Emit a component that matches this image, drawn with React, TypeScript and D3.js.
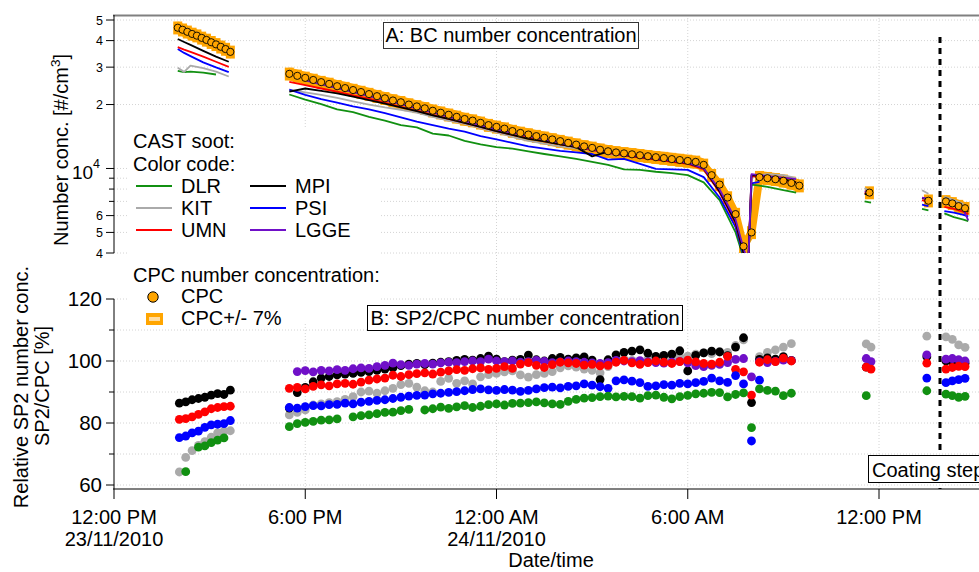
import React from 'react';
import * as d3 from 'd3';

const FONT = '"Liberation Sans", Arial, Helvetica, sans-serif';

// x values are hours after 12:00 PM, 23/11/2010
const xTickHours = [0, 6, 12, 18, 24];
const xTickTimes = ['12:00 PM', '6:00 PM', '12:00 AM', '6:00 AM', '12:00 PM'];
const xTickDates = ['23/11/2010', '', '24/11/2010', '', ''];

const concMajorTicks = [4000, 5000, 6000, 10000, 20000, 30000, 40000, 50000];
const concMajorLabels = ['4', '5', '6', '', '2', '3', '4', '5'];
const concMinorTicks = [7000, 8000, 9000];
const ratioMajorTicks = [60, 80, 100, 120];
const ratioMinorTicks = [70, 90, 110];

const seriesNames = ['DLR', 'KIT', 'UMN', 'MPI', 'PSI', 'LGGE'];
const seriesColors = ['#119011', '#aaaaaa', '#ff0000', '#000000', '#0000ff', '#7010c8'];

// ---- panel A : number concentration (#/cm3) ----
const concTimes = [
  [2.0, 2.2, 2.4, 2.8, 3.2, 3.6],
  [5.5, 6.0, 6.5, 7.0, 7.5, 8.0, 8.5, 9.0, 9.5, 10.0, 10.5, 11.0, 11.5, 12.0, 12.5, 13.0, 13.5, 14.0,
    14.5, 15.0, 15.5, 16.0, 16.5, 17.0, 17.5, 18.0, 18.5, 19.0, 19.5, 19.75, 19.9, 20.0, 20.25, 20.5, 21.0, 21.4],
  [23.55, 23.75],
  [25.35, 25.55],
  [26.05, 26.35, 26.65, 26.8],
];

const dlrConc = [
  [28800, 28400, 28600, 28300, 27700, null],
  [22300, 21100, 20100, 19000, 18400, 17500, 16800, 16000, 15600, 14600, 14300, 13500, 13000, 12600, 12400, 12050, 11700, 11400,
    11100, 10750, 10400, 9900, 9850, 9650, 9500, 9300, 8600, 7100, 5000, 3800, 3600, 8400, 8300, 8200, 7900, 7700],
  [7000, 6900],
  [6450, 6350],
  [6150, 5900, 5750, 5650],
];
const kitConc = [
  [29800, 28500, 30500, 29700, 28600, 27100],
  [23500, 22800, 22200, 21500, 20700, 20000, 19400, 18900, 18300, 17500, 16800, 16200, 15500, 14800, 14100, 13500, 13100, 12700,
    12450, 12200, 11700, 11500, 11300, 11100, 10800, 10600, 10000, 7800, 5600, 4000, 3600, 9100, 9300, 9400, 9300, 9000],
  [8100, 7700],
  [7900, 7600],
  [7350, 7100, 6800, null],
];
const umnConc = [
  [37300, 36300, 35400, 33600, 31800, 30100],
  [25600, 24700, 23800, 23000, 22100, 21300, 20400, 19500, 18700, 17900, 17100, 16400, 15700, 15000, 14400, 13900, 13400, 13000,
    12600, 12200, 11800, 11500, 11250, 11000, 10750, 10500, 9900, 7700, 5500, 4000, 3600, 9200, 9100, 9000, 8800, 8600],
  [7700, 7450],
  [7100, 6950],
  [6600, 6450, 6250, 6100],
];
const mpiConc = [
  [40700, 39400, 38200, 35800, 33600, 31800],
  [23000, 23800, 23200, 22600, 21800, 21000, 20200, 19400, 18600, 17800, 17100, 16400, 15700, 15000, 14400, 13800, 13400, 13000,
    12600, 11400, 12000, 11600, 11350, 11100, 10850, 10600, 10000, 7800, 5600, 4000, 3600, 9300, 9250, 9200, 8900, 8600],
  [7600, 7500],
  [7250, 7150],
  [6850, 6700, 6450, 6250],
];
const psiConc = [
  [36500, 35000, 33800, 31600, 29900, 28400],
  [23500, 22200, 21200, 20400, 19600, 19000, 18200, 17400, 16600, 16000, 15400, 14900, 14200, 13700, 13200, 12700, 12400, 12100,
    11900, 11700, 11000, 11100, 10500, 9950, 9900, 9850, 9100, 7300, 5300, 3900, 3600, 8500, 8650, null, null, null],
  [null, null],
  [6750, 6650],
  [6300, 6200, 6050, 5950],
];
const lggeConc = [
  [null, null, null, null, null, null],
  [null, 26000, 24900, 23900, 22900, 21900, 21000, 20100, 19200, 18300, 17500, 16700, 16000, 15300, 14700, 14200, 13700, 13200,
    12750, 12300, 12000, 11650, 11400, 11150, 10900, 10650, 10000, 7960, 5750, 4200, 3600, 9400, 9300, 9200, 9050, 8900],
  [7800, 7750],
  [7300, 7200],
  [6900, 6700, 6400, 5700],
];

const cpcTimes = [
  [2.0, 2.15, 2.3, 2.45, 2.6, 2.75, 2.9, 3.05, 3.2, 3.35, 3.5, 3.65],
  [5.5, 5.75, 6, 6.25, 6.5, 6.75, 7, 7.25, 7.5, 7.75, 8, 8.25, 8.5, 8.75, 9, 9.25, 9.5, 9.75, 10, 10.25,
    10.5, 10.75, 11, 11.25, 11.5, 11.75, 12, 12.25, 12.5, 12.75, 13, 13.25, 13.5, 13.75, 14, 14.25, 14.5, 14.75, 15, 15.25,
    15.5, 15.75, 16, 16.25, 16.5, 16.75, 17, 17.25, 17.5, 17.75, 18, 18.25, 18.5, 18.75, 19, 19.25, 19.5, 19.75,
    20.0, 20.25, 20.5, 20.75, 21.0, 21.25, 21.5],
  [23.7],
  [25.55],
  [26.1, 26.3, 26.5, 26.7],
];
const cpcConc = [
  [46000, 45000, 44000, 43000, 42200, 41200, 40300, 39300, 38400, 37400, 36500, 35400],
  [27900, 27300, 26700, 26100, 25500, 25000, 24400, 23900, 23400, 22900, 22400, 21900, 21400, 20900, 20500, 20000, 19600, 19200, 18700, 18300,
    17900, 17500, 17100, 16800, 16400, 16000, 15700, 15400, 15000, 14700, 14450, 14200, 13950, 13700, 13450, 13200, 12950, 12700, 12500, 12250,
    12050, 11900, 11780, 11660, 11540, 11420, 11300, 11190, 11070, 10960, 10850, 10740, 10400, 9300, 8400, 7300, 6100, 4300,
    5000, 9100, 9000, 8900, 8750, 8550, 8300],
  [7700],
  [7050],
  [7000, 6850, 6650, 6500],
];

// ---- panel B : SP2/CPC (%) ----
const ratioTimes = [
  [2.05, 2.25, 2.45, 2.65, 2.85, 3.05, 3.25, 3.45, 3.65],
  [5.5, 5.75, 6, 6.25, 6.5, 6.75, 7, 7.25, 7.5, 7.75, 8, 8.25, 8.5, 8.75, 9, 9.25, 9.5, 9.75, 10, 10.25,
    10.5, 10.75, 11, 11.25, 11.5, 11.75, 12, 12.25, 12.5, 12.75, 13, 13.25, 13.5, 13.75, 14, 14.25, 14.5, 14.75, 15, 15.25,
    15.5, 15.75, 16, 16.25, 16.5, 16.75, 17, 17.25, 17.5, 17.75, 18, 18.25, 18.5, 18.75, 19, 19.25, 19.5, 19.75],
  [20.0, 20.25, 20.5, 20.75, 21.0, 21.25],
  [23.6, 23.75],
  [25.5],
  [26.1, 26.3, 26.5, 26.7],
];

const dlrRatio = [
  [null, 64.3, null, 72.2, 72.6, 73.7, 74.5, 75.2, null],
  [78.8, 79.8, 80.2, 80.5, 80.9, 81.0, 81.3, null, 82.0, 82.4,
    82.6, 83.0, 83.4, 83.5, 84.0, 84.4, null, 84.2, 84.6, 85.1,
    84.7, 85.2, 85.6, 85.0, 85.4, 85.9, 86.2, 85.8, 86.3, 86.4,
    86.6, 86.8, 86.5, 86.2, 86.0, 87.0, 87.6, 88.0, 88.2, 88.5,
    88.7, 88.4, 88.6, 88.5, 88.0, 88.8, 89.0, 88.3, 87.8, 88.5,
    88.9, 89.4, 89.6, 89.9, 89.8, 88.4, 89.2, 89.7],
  [78.5, 91.0, 90.5, 90.3, 88.8, 89.6],
  [88.8, null],
  [90.4],
  [89.3, 88.8, 88.3, 88.6],
];
const kitRatio = [
  [64.2, 68.9, 71.1, 72.8, 74.0, 75.4, 76.8, 77.4, 77.5],
  [82.6, 83.4, 84.2, 85.8, 86.2, 86.6, 86.9, 87.6, 88.5, 90.0,
    90.3, 89.6, 90.4, 91.2, 92.4, 92.8, 91.6, 90.4, 90.0, 93.4,
    94.4, 92.8, 93.6, 92.6, 94.9, 95.6, 96.0, 96.5, 96.8, 95.5,
    94.8, 95.6, 96.0, 96.6, 97.8, 98.4, 98.0, 97.4, 97.0, 96.2,
    98.2, 99.8, 100.5, 100.2, 99.8, 100.6, 100.8, 100.4, 101.0, 101.4,
    101.6, 102.2, 102.6, 102.4, 103.0, 102.8, 105.0, 106.8],
  [null, 101.4, 102.8, 103.6, 104.5, 105.6],
  [105.5, 104.5],
  [108.0],
  [107.8, 107.0, 105.2, 104.4],
];
const umnRatio = [
  [81.2, 81.4, 82.0, 82.8, 83.6, 84.6, 85.0, 85.3, 85.4],
  [91.2, 91.5, 91.0, 91.8, 92.3, 92.0, 92.6, 92.8, 92.5, 93.2,
    93.8, 94.2, 94.5, 95.4, 95.0, 95.6, 95.9, 96.2, 95.8, 96.4,
    96.8, 97.2, 97.0, 97.5, 97.8, 97.3, 97.6, 98.2, 97.6, 99.0,
    99.5, 98.6, 97.9, 98.8, 99.6, 99.4, 99.2, 98.7, 98.9, 98.4,
    98.6, 99.6, 100.2, 99.4, 98.9, 99.5, 100.0, 99.6, 99.2, 99.8,
    100.3, 99.7, 99.2, 99.0, 99.6, 101.5, 97.3, 96.5],
  [89.0, 99.6, 100.4, 99.8, 100.9, 100.0],
  [98.0, 97.4],
  [99.3],
  [97.4, 97.9, 98.3, 98.2],
];
const mpiRatio = [
  [86.4, 86.8, 87.5, 87.9, 88.3, 89.0, 89.5, 89.2, 90.6],
  [84.8, 89.8, 91.5, 93.3, 94.5, 95.0, 95.5, 95.8, 96.0, 96.3,
    96.6, 97.0, 97.4, 97.8, 98.5, 99.0, 99.2, 98.8, 99.3, 99.6,
    99.8, 100.2, 100.5, 100.3, 100.8, 101.6, 100.6, 99.8, 100.3, 100.5,
    101.9, 100.4, 100.0, 100.8, 101.2, 100.6, 101.0, 101.3, 100.3, 94.0,
    100.4, 102.0, 102.8, 103.2, 103.6, 102.5, 101.5, 101.8, 102.2, 103.3,
    96.8, 101.8, 102.6, 103.2, 102.9, 101.7, 104.5, 107.5],
  [86.6, 100.5, 101.0, 100.6, 101.4, 100.2],
  [98.0, null],
  [101.4],
  [100.0, 99.6, 100.2, 99.3],
];
const psiRatio = [
  [75.3, 75.8, 76.8, 77.4, 78.6, 79.4, 79.6, 79.8, 80.8],
  [85.0, 84.8, 85.3, 85.6, 85.5, 85.9, 86.0, 86.4, 86.2, 86.7,
    87.0, 87.3, 87.5, 87.9, 88.3, 88.7, 88.9, 89.0, 89.4, 89.6,
    89.9, 90.1, 90.4, 90.8, 91.0, 90.7, 90.5, 90.8, 90.6, 90.2,
    90.5, 91.0, 91.4, 91.6, 91.3, 91.8, 92.0, 92.6, 92.2, 91.7,
    91.2, 93.6, 93.9, 93.5, 93.0, 91.8, 92.0, 92.4, 92.2, 92.8,
    92.6, 93.0, 93.4, 94.5, 93.6, 93.1, 95.3, 92.6],
  [74.2, 93.8, null, null, null, null],
  [null, null],
  [94.5],
  [93.0, 93.6, 94.0, 94.4],
];
const lggeRatio = [
  [null, null, null, null, null, null, null, null, null],
  [null, 96.6, 96.9, 96.5, 97.0, 96.8, 97.2, 97.0, 97.5, 97.8,
    97.6, 98.2, 98.6, 99.3, 98.8, 98.6, 99.0, 99.2, 99.0, 99.4,
    99.6, 99.5, 99.8, 100.0, 99.8, 100.6, 100.0, 99.8, 100.0, 99.6,
    99.8, 100.2, 99.9, 99.5, 99.7, 100.0, 99.8, 99.6, 99.4, 99.2,
    99.5, 100.2, 100.0, 99.8, 100.1, 99.7, 99.5, 99.3, 99.6, 99.9,
    99.4, 98.5, 98.2, 98.6, 98.9, 99.5, 100.5, 100.8],
  [94.9, 99.8, 99.5, 99.9, 100.3, 100.1],
  [100.8, 99.8],
  [102.0],
  [100.6, 100.8, 100.4, 100.0],
];

const concBySeries = [dlrConc, kitConc, umnConc, mpiConc, psiConc, lggeConc];
const ratioBySeries = [dlrRatio, kitRatio, umnRatio, mpiRatio, psiRatio, lggeRatio];

const x = d3.scaleLinear().domain([0, 24]).range([114, 879]);
const yConc = d3.scaleLog().domain([4000, 52800]).range([253, 15]);
const yRatio = d3.scaleLinear().domain([60, 120]).range([485, 299]);

type Pt = [number, number | null];

const concLine = d3.line<Pt>()
  .defined(d => d[1] != null)
  .x(d => x(d[0]))
  .y(d => yConc(d[1] as number));

const bandArea = d3.area<Pt>()
  .x(d => x(d[0]))
  .y0(d => yConc((d[1] as number) * 0.93))
  .y1(d => yConc((d[1] as number) * 1.07));

const zip = (ts: number[], vs: (number | null)[]): Pt[] => ts.map((t, i) => [t, vs[i]]);

const GRID = '#d4d4d4';
const ORANGE = '#ffa500';
const FS = 20;

const App: React.FC = () => {
  const topLineOrder = [0, 1, 4, 2, 3, 5];
  const dotOrder = [1, 3, 5, 2, 4, 0];

  return (
    <svg width={979} height={572} style={{ position: 'absolute', left: 0, top: 0, fontFamily: FONT }}>
      <defs>
        <clipPath id="clipTop">
          <rect x={114} y={15} width={865} height={238} />
        </clipPath>
      </defs>
      <rect width={979} height={572} fill="#fff" />

      {/* grid */}
      {[...concMajorTicks, ...concMinorTicks].map(v => (
        <line key={'gc' + v} x1={114} x2={979} y1={yConc(v)} y2={yConc(v)} stroke={GRID} strokeDasharray="1 2" />
      ))}
      {[...ratioMajorTicks, ...ratioMinorTicks].map(v => (
        <line key={'gr' + v} x1={114} x2={979} y1={yRatio(v)} y2={yRatio(v)} stroke={GRID} strokeDasharray="1 2" />
      ))}
      {xTickHours.slice(1).map(h => (
        <line key={'gx' + h} x1={x(h)} x2={x(h)} y1={15} y2={489} stroke={GRID} strokeDasharray="1 2" />
      ))}

      {/* legend background */}
      <rect x={128} y={128} width={252} height={194} fill="#fff" />

      {/* panel A data */}
      <g clipPath="url(#clipTop)">
        {cpcTimes.map((ts, k) => {
          const pts = zip(ts, cpcConc[k]);
          return (
            <g key={'band' + k}>
              <path d={concLine(pts) ?? ''} fill="none" stroke={ORANGE} strokeWidth={8} strokeLinejoin="round" />
              <path d={bandArea(pts) ?? ''} fill={ORANGE} />
              {pts.map((p, i) => (
                <rect key={i} x={x(p[0]) - 4.5} width={9}
                  y={yConc((p[1] as number) * 1.07)}
                  height={yConc((p[1] as number) * 0.93) - yConc((p[1] as number) * 1.07)}
                  fill={ORANGE} />
              ))}
            </g>
          );
        })}
        {topLineOrder.map(s => (
          <g key={'l' + s}>
            {concTimes.map((ts, k) => (
              <path key={k} d={concLine(zip(ts, concBySeries[s][k])) ?? ''} fill="none"
                stroke={seriesColors[s]} strokeWidth={1.8} strokeLinejoin="round" />
            ))}
          </g>
        ))}
        {cpcTimes.map((ts, k) => ts.map((t, i) => (
          <circle key={'c' + k + '-' + i} cx={x(t)} cy={yConc(cpcConc[k][i])} r={3.6}
            fill={ORANGE} stroke="#000" strokeWidth={0.9} />
        )))}
      </g>

      {/* panel B data */}
      {dotOrder.map(s => (
        <g key={'d' + s} fill={seriesColors[s]}>
          {ratioTimes.map((ts, k) => ts.map((t, i) => {
            const v = ratioBySeries[s][k][i];
            return v == null ? null : <circle key={k + '-' + i} cx={x(t)} cy={yRatio(v)} r={4.4} />;
          }))}
        </g>
      ))}

      {/* frame lines */}
      <line x1={113} x2={979} y1={15.5} y2={15.5} stroke="#808080" strokeWidth={2} />
      <line x1={113} x2={979} y1={489} y2={489} stroke="#808080" strokeWidth={2} />

      {/* axis A */}
      <line x1={114} x2={114} y1={15} y2={253} stroke="#000" />
      {concMajorTicks.map((v, i) => (
        <g key={'ta' + v}>
          <line x1={106} x2={114} y1={yConc(v)} y2={yConc(v)} stroke="#000" />
          {concMajorLabels[i] && (
            <text x={103} y={yConc(v)} dy="0.36em" textAnchor="end" fontSize={12.5}>{concMajorLabels[i]}</text>
          )}
        </g>
      ))}
      {concMinorTicks.map(v => (
        <line key={'tm' + v} x1={109} x2={114} y1={yConc(v)} y2={yConc(v)} stroke="#000" />
      ))}
      <text x={100} y={179} textAnchor="end" fontSize={19}>10<tspan dy={-11} fontSize={12.5}>4</tspan></text>
      <text transform="translate(68,150) rotate(-90)" textAnchor="middle" fontSize={FS}>
        Number conc. [#/cm<tspan dy={-8} fontSize={13.5}>3</tspan><tspan dy={8}>]</tspan>
      </text>

      {/* axis B */}
      <line x1={114} x2={114} y1={299} y2={489} stroke="#000" />
      {ratioMajorTicks.map(v => (
        <g key={'tb' + v}>
          <line x1={106} x2={114} y1={yRatio(v)} y2={yRatio(v)} stroke="#000" />
          <text x={102} y={yRatio(v)} dy="0.36em" textAnchor="end" fontSize={20.5}>{v}</text>
        </g>
      ))}
      {ratioMinorTicks.map(v => (
        <line key={'tbm' + v} x1={109} x2={114} y1={yRatio(v)} y2={yRatio(v)} stroke="#000" />
      ))}
      <text transform="translate(28,387) rotate(-90)" textAnchor="middle" fontSize={FS}>Relative SP2 number conc.</text>
      <text transform="translate(49,386) rotate(-90)" textAnchor="middle" fontSize={FS}>SP2/CPC [%]</text>

      {/* x axis */}
      {xTickHours.map((h, i) => (
        <g key={'tx' + h}>
          <line x1={x(h)} x2={x(h)} y1={489} y2={499} stroke="#000" />
          <text x={x(h)} y={524} textAnchor="middle" fontSize={FS}>{xTickTimes[i]}</text>
          {xTickDates[i] && <text x={x(h)} y={546} textAnchor="middle" fontSize={FS}>{xTickDates[i]}</text>}
        </g>
      ))}
      <text x={551} y={567} textAnchor="middle" fontSize={FS}>Date/time</text>

      {/* coating step marker */}
      <line x1={940} x2={940} y1={37} y2={489} stroke="#000" strokeWidth={3} strokeDasharray="6 5" />
      <rect x={868.5} y={455.5} width={140} height={27} fill="#fff" stroke="#000" />
      <text x={872} y={477} fontSize={FS}>Coating step</text>

      {/* panel titles */}
      <rect x={383.5} y={22.5} width={255} height={26} fill="#fff" stroke="#333" />
      <text x={511} y={42} textAnchor="middle" fontSize={FS}>A: BC number concentration</text>
      <rect x={367.5} y={305.5} width={315} height={25} fill="#fff" stroke="#000" />
      <text x={525} y={325} textAnchor="middle" fontSize={FS}>B: SP2/CPC number concentration</text>

      {/* legend */}
      <text x={133} y={148} fontSize={FS}>CAST soot:</text>
      <text x={133} y={171} fontSize={FS}>Color code:</text>
      {seriesNames.map((n, i) => {
        const col = Math.floor(i / 3);
        const row = i % 3;
        const lx = col === 0 ? 136 : 250;
        const ly = 186 + row * 22;
        return (
          <g key={'lg' + n}>
            <line x1={lx} x2={lx + 36} y1={ly} y2={ly} stroke={seriesColors[i]} strokeWidth={2} />
            <text x={lx + 45} y={ly + 7} fontSize={FS}>{n}</text>
          </g>
        );
      })}
      <text x={133} y={282} fontSize={FS}>CPC number concentration:</text>
      <circle cx={153} cy={297} r={5.2} fill={ORANGE} stroke="#000" strokeWidth={1} />
      <text x={181} y={303} fontSize={FS}>CPC</text>
      <rect x={146} y={313} width={17} height={12} fill={ORANGE} />
      <rect x={149} y={317} width={11} height={4} fill="#ffdca0" />
      <text x={181} y={325} fontSize={FS}>CPC+/- 7%</text>
    </svg>
  );
};

export default App;
